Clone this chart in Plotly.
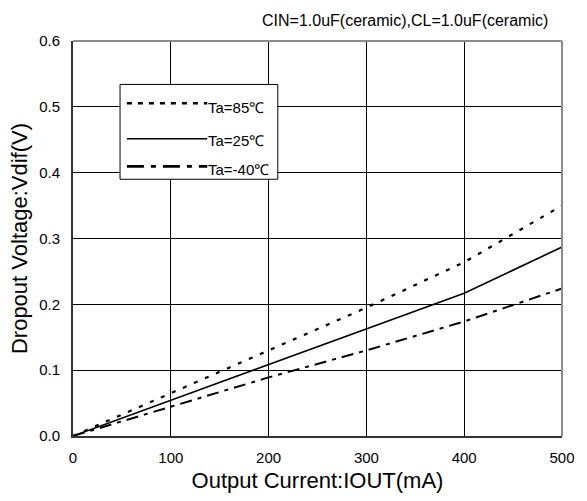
import plotly.graph_objects as go

# Dropout voltage vs output current at three ambient temperatures
current_ma = [0, 100, 200, 300, 400, 500]
vdif_85c = [0.0, 0.065, 0.130, 0.195, 0.264, 0.350]
vdif_25c = [0.0, 0.054, 0.109, 0.162, 0.217, 0.287]
vdif_m40c = [0.0, 0.044, 0.089, 0.130, 0.174, 0.224]

series_names = ["Ta=85℃", "Ta=25℃", "Ta=-40℃"]
x_ticks = [0, 100, 200, 300, 400, 500]
y_ticks = [0.0, 0.1, 0.2, 0.3, 0.4, 0.5, 0.6]

FONT = "Liberation Sans, Arial, sans-serif"
styles = [
    dict(color="black", width=2.2, dash="4px,8px"),
    dict(color="black", width=1.6),
    dict(color="black", width=2.0, dash="12px,6px,4px,6px"),
]
legend_dash = [
    dict(color="black", width=2.6, dash="5px,6px"),
    dict(color="black", width=1.6),
    dict(color="black", width=2.6, dash="17px,7px,5px,7px"),
]

fig = go.Figure()
for name, ys, st in zip(series_names, [vdif_85c, vdif_25c, vdif_m40c], styles):
    fig.add_trace(go.Scatter(x=current_ma, y=ys, mode="lines", name=name,
                             line=st, showlegend=False, hoverinfo="skip"))

W, H = 587, 501
L, R, T, B = 73, 15, 41, 60
# plot-area pixel extents used to place the legend and note
X0, X1, Y0, Y1 = L, W - R, H - B, T


def px_x(p):
    return (p - X0) / (X1 - X0)


def px_y(p):
    return (Y0 - p) / (Y0 - Y1)


shapes = []
annotations = []

# frame: top and right edges in lighter grey
shapes.append(dict(type="line", xref="paper", yref="paper", x0=0, x1=1, y0=1, y1=1,
                   line=dict(color="#8c8c8c", width=2), layer="above"))
shapes.append(dict(type="line", xref="paper", yref="paper", x0=1, x1=1, y0=0, y1=1,
                   line=dict(color="#8c8c8c", width=2), layer="above"))

# legend box
shapes.append(dict(type="rect", xref="paper", yref="paper",
                   x0=px_x(121), x1=px_x(282), y0=px_y(181), y1=px_y(85),
                   line=dict(color="black", width=1), fillcolor="white", layer="above"))
row_line_y = [104, 140, 168]
row_text_y = [108, 142, 171]
for name, ly, ty, st in zip(series_names, row_line_y, row_text_y, legend_dash):
    shapes.append(dict(type="line", xref="paper", yref="paper",
                       x0=px_x(128), x1=px_x(210), y0=px_y(ly), y1=px_y(ly),
                       line=st, layer="above"))
    annotations.append(dict(xref="paper", yref="paper", x=px_x(211), y=px_y(ty),
                            text=name, showarrow=False, xanchor="left", yanchor="middle",
                            xshift=-2, font=dict(family=FONT, size=15, color="black")))

annotations.append(dict(xref="paper", yref="paper", x=px_x(560), y=px_y(20),
                        text="CIN=1.0uF(ceramic),CL=1.0uF(ceramic)", showarrow=False,
                        xanchor="right", yanchor="middle",
                        font=dict(family=FONT, size=16, color="black")))

fig.update_layout(
    width=W, height=H,
    margin=dict(l=L, r=R, t=T, b=B, pad=0),
    paper_bgcolor="white", plot_bgcolor="white",
    font=dict(family=FONT, color="black"),
    shapes=shapes, annotations=annotations,
    xaxis=dict(range=[0, 500], tickvals=x_ticks, ticktext=[str(v) for v in x_ticks],
               showgrid=True, gridcolor="black", gridwidth=1,
               showline=True, linecolor="#333333", linewidth=2,
               ticks="", ticklabelstandoff=7, zeroline=False,
               tickfont=dict(size=15, family=FONT, color="black"),
               title=dict(text="Output Current:IOUT(mA)", standoff=8,
                          font=dict(size=22, family=FONT, color="black"))),
    yaxis=dict(range=[0, 0.6], tickvals=y_ticks, ticktext=[f"{v:.1f}" for v in y_ticks],
               showgrid=True, gridcolor="black", gridwidth=1,
               showline=True, linecolor="#333333", linewidth=2,
               ticks="", ticklabelstandoff=8, zeroline=False,
               tickfont=dict(size=15, family=FONT, color="black"),
               title=dict(text="Dropout Voltage:Vdif(V)", standoff=5,
                          font=dict(size=22, family=FONT, color="black"))),
)

fig.write_html("out.html")
